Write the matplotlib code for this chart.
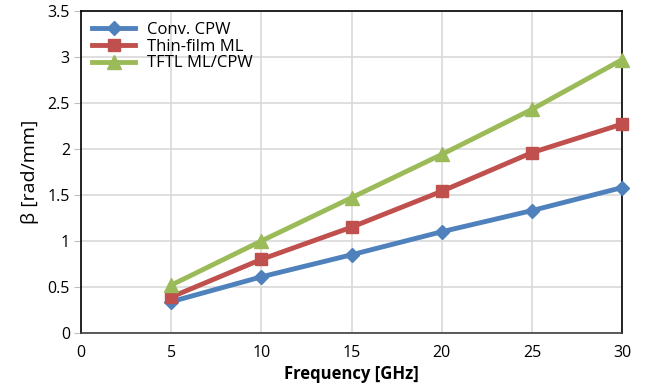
import matplotlib
matplotlib.use("Agg")
import matplotlib.pyplot as plt

freq = [5, 10, 15, 20, 25, 30]
conv_cpw = [0.34, 0.61, 0.85, 1.10, 1.33, 1.58]
thin_film_ml = [0.39, 0.80, 1.15, 1.54, 1.96, 2.27]
tftl_ml_cpw = [0.52, 1.00, 1.47, 1.94, 2.43, 2.97]
series_names = ["Conv. CPW", "Thin-film ML", "TFTL ML/CPW"]
x_ticks = [0, 5, 10, 15, 20, 25, 30]
y_ticks = [0, 0.5, 1, 1.5, 2, 2.5, 3, 3.5]

plt.rcParams['font.family'] = ['Open Sans', 'DejaVu Sans']

fig = plt.figure(figsize=(6.46, 3.89), dpi=100)
ax = fig.add_axes([0.1254, 0.144, 0.8376, 0.828])

colors = ["#4F81BD", "#C0504D", "#9BBB59"]
markers = ["D", "s", "^"]
msizes = [7, 9, 10]
for vals, name, c, m, ms in zip([conv_cpw, thin_film_ml, tftl_ml_cpw], series_names, colors, markers, msizes):
    ax.plot(freq, vals, color=c, marker=m, markersize=ms, linewidth=3.5, label=name, clip_on=False, zorder=3)

ax.set_xlim(0, 30)
ax.set_ylim(0, 3.5)
ax.set_xticks(x_ticks)
ax.set_yticks(y_ticks)
ax.set_yticklabels(["0", "0.5", "1", "1.5", "2", "2.5", "3", "3.5"])
ax.grid(True, color="#D9D9D9", linewidth=1.2)
ax.set_axisbelow(True)
for s in ax.spines.values():
    s.set_color("black")
    s.set_linewidth(1.2)
ax.spines['bottom'].set_color("#404040")
ax.tick_params(axis='y', length=5, color="#BFBFBF", labelsize=11.5, pad=3)
ax.tick_params(axis='x', length=0, labelsize=11.5, pad=9)
ax.set_xlabel("Frequency [GHz]", fontsize=12, fontweight='bold')
ax.xaxis.set_label_coords(0.5, -0.1)
ax.set_ylabel("β [rad/mm]", fontsize=14)
ax.yaxis.set_label_coords(-0.078, 0.5)

leg = ax.legend(loc='upper left', frameon=False, fontsize=12, handlelength=2.6,
                borderaxespad=0.25, labelspacing=0.05, handletextpad=0.7)

fig.savefig("out.png", dpi=100)
